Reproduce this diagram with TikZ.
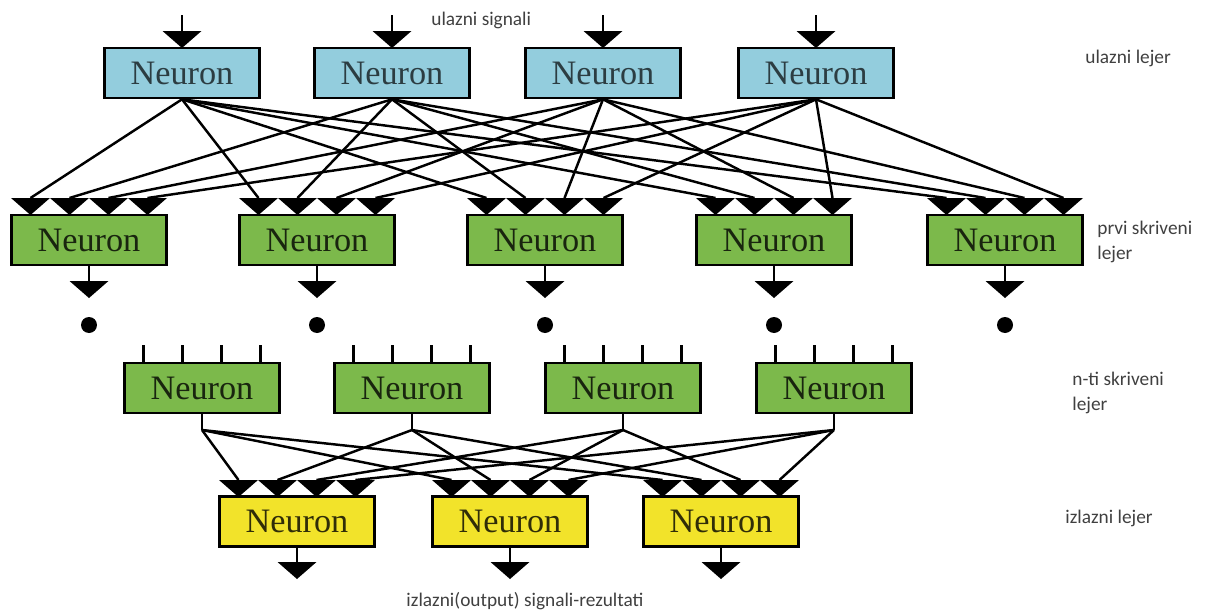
\documentclass[tikz,border=0pt]{standalone}
\usepackage{fontspec}
\usepackage{tikz}
\newfontfamily\labelfont{Carlito}
\newfontfamily\neuronfont{Liberation Serif}
\definecolor{inblue}{HTML}{93CDDD}
\definecolor{hidgreen}{HTML}{7CB94B}
\definecolor{outyellow}{HTML}{F2E32A}
\definecolor{labelgray}{HTML}{404040}

\begin{document}
\begin{tikzpicture}[x=0.02cm,y=-0.02cm,
  neuron/.style={draw=black,line width=1.5pt,minimum width=3.1cm,minimum height=1cm,
    inner sep=0pt,font=\neuronfont\fontsize{19.5}{22}\selectfont},
  inbox/.style={neuron,fill=inblue,text=black!70!inblue},
  hidbox/.style={neuron,fill=hidgreen,text=black!80!hidgreen},
  outbox/.style={neuron,fill=outyellow,text=black!80!outyellow},
  link/.style={line width=1.4pt,black},
  dot/.style={circle,fill=black,inner sep=0pt,minimum size=0.32cm},
  lbl/.style={font=\labelfont\fontsize{11}{14}\selectfont,text=labelgray,align=left,inner sep=0pt},
  tri/.pic={\fill[black] (-19.5,0) -- (19.5,0) -- (0,17) -- cycle;
    \coordinate (-top) at (0,0);}]
\useasboundingbox (0,0) rectangle (1214,612);
% input layer
\foreach \x [count=\i] in {182,392,603,816} {
  \node[inbox] (in\i) at (\x,73) {Neuron};
  \coordinate (is\i) at (\x,15);
  \pic (ia\i) at (\x,31) {tri};
  \draw[link] (is\i) -- (ia\i-top);
}
% first hidden layer
\foreach \x [count=\j] in {89,317,545,774,1005} {
  \node[hidbox] (h\j) at (\x,240) {Neuron};
  \foreach \d [count=\i] in {-58.5,-19.5,19.5,58.5}
    \pic (h\j-\i) at ({\x+(\d)},198) {tri};
  \pic (ho\j) at (\x,281) {tri};
  \draw[link] (h\j.south) -- (ho\j-top);
  \node[dot] (hd\j) at (\x,325) {};
}
\foreach \i in {1,...,4}
  \foreach \j in {1,...,5}
    \draw[link] (in\i.south) -- (h\j-\i-top);
% n-th hidden layer
\foreach \x [count=\i] in {202,412,623,834} {
  \node[hidbox] (n\i) at (\x,388) {Neuron};
  \foreach \d [count=\k] in {-58.5,-19.5,19.5,58.5} {
    \coordinate (nt\i-\k) at ({\x+(\d)},345);
    \draw[link] (nt\i-\k) -- (nt\i-\k |- n\i.north);
  }
  \coordinate (nf\i) at (\x,430);
  \draw[link] (n\i.south) -- (nf\i);
}
% output layer
\foreach \x [count=\j] in {297,510,721} {
  \node[outbox] (o\j) at (\x,521.5) {Neuron};
  \foreach \d [count=\i] in {-58.5,-19.5,19.5,58.5}
    \pic (o\j-\i) at ({\x+(\d)},480) {tri};
  \pic (oa\j) at (\x,562) {tri};
  \draw[link] (o\j.south) -- (oa\j-top);
}
\foreach \i in {1,...,4}
  \foreach \j in {1,2,3}
    \draw[link] (nf\i) -- (o\j-\i-top);
% labels
\node[lbl,anchor=west] (sigin) at (431,20) {ulazni signali};
\node[lbl,anchor=west] (layin) at (1085,58) {ulazni lejer};
\node[lbl,anchor=west] (layh1) at (1097,242) {prvi skriveni\\lejer};
\node[lbl,anchor=west] (layhn) at (1072,393) {n-ti skriveni\\lejer};
\node[lbl,anchor=west] (layout) at (1065,518) {izlazni lejer};
\node[lbl] (sigout) at (525,601) {izlazni(output) signali-rezultati};
\end{tikzpicture}
\end{document}
